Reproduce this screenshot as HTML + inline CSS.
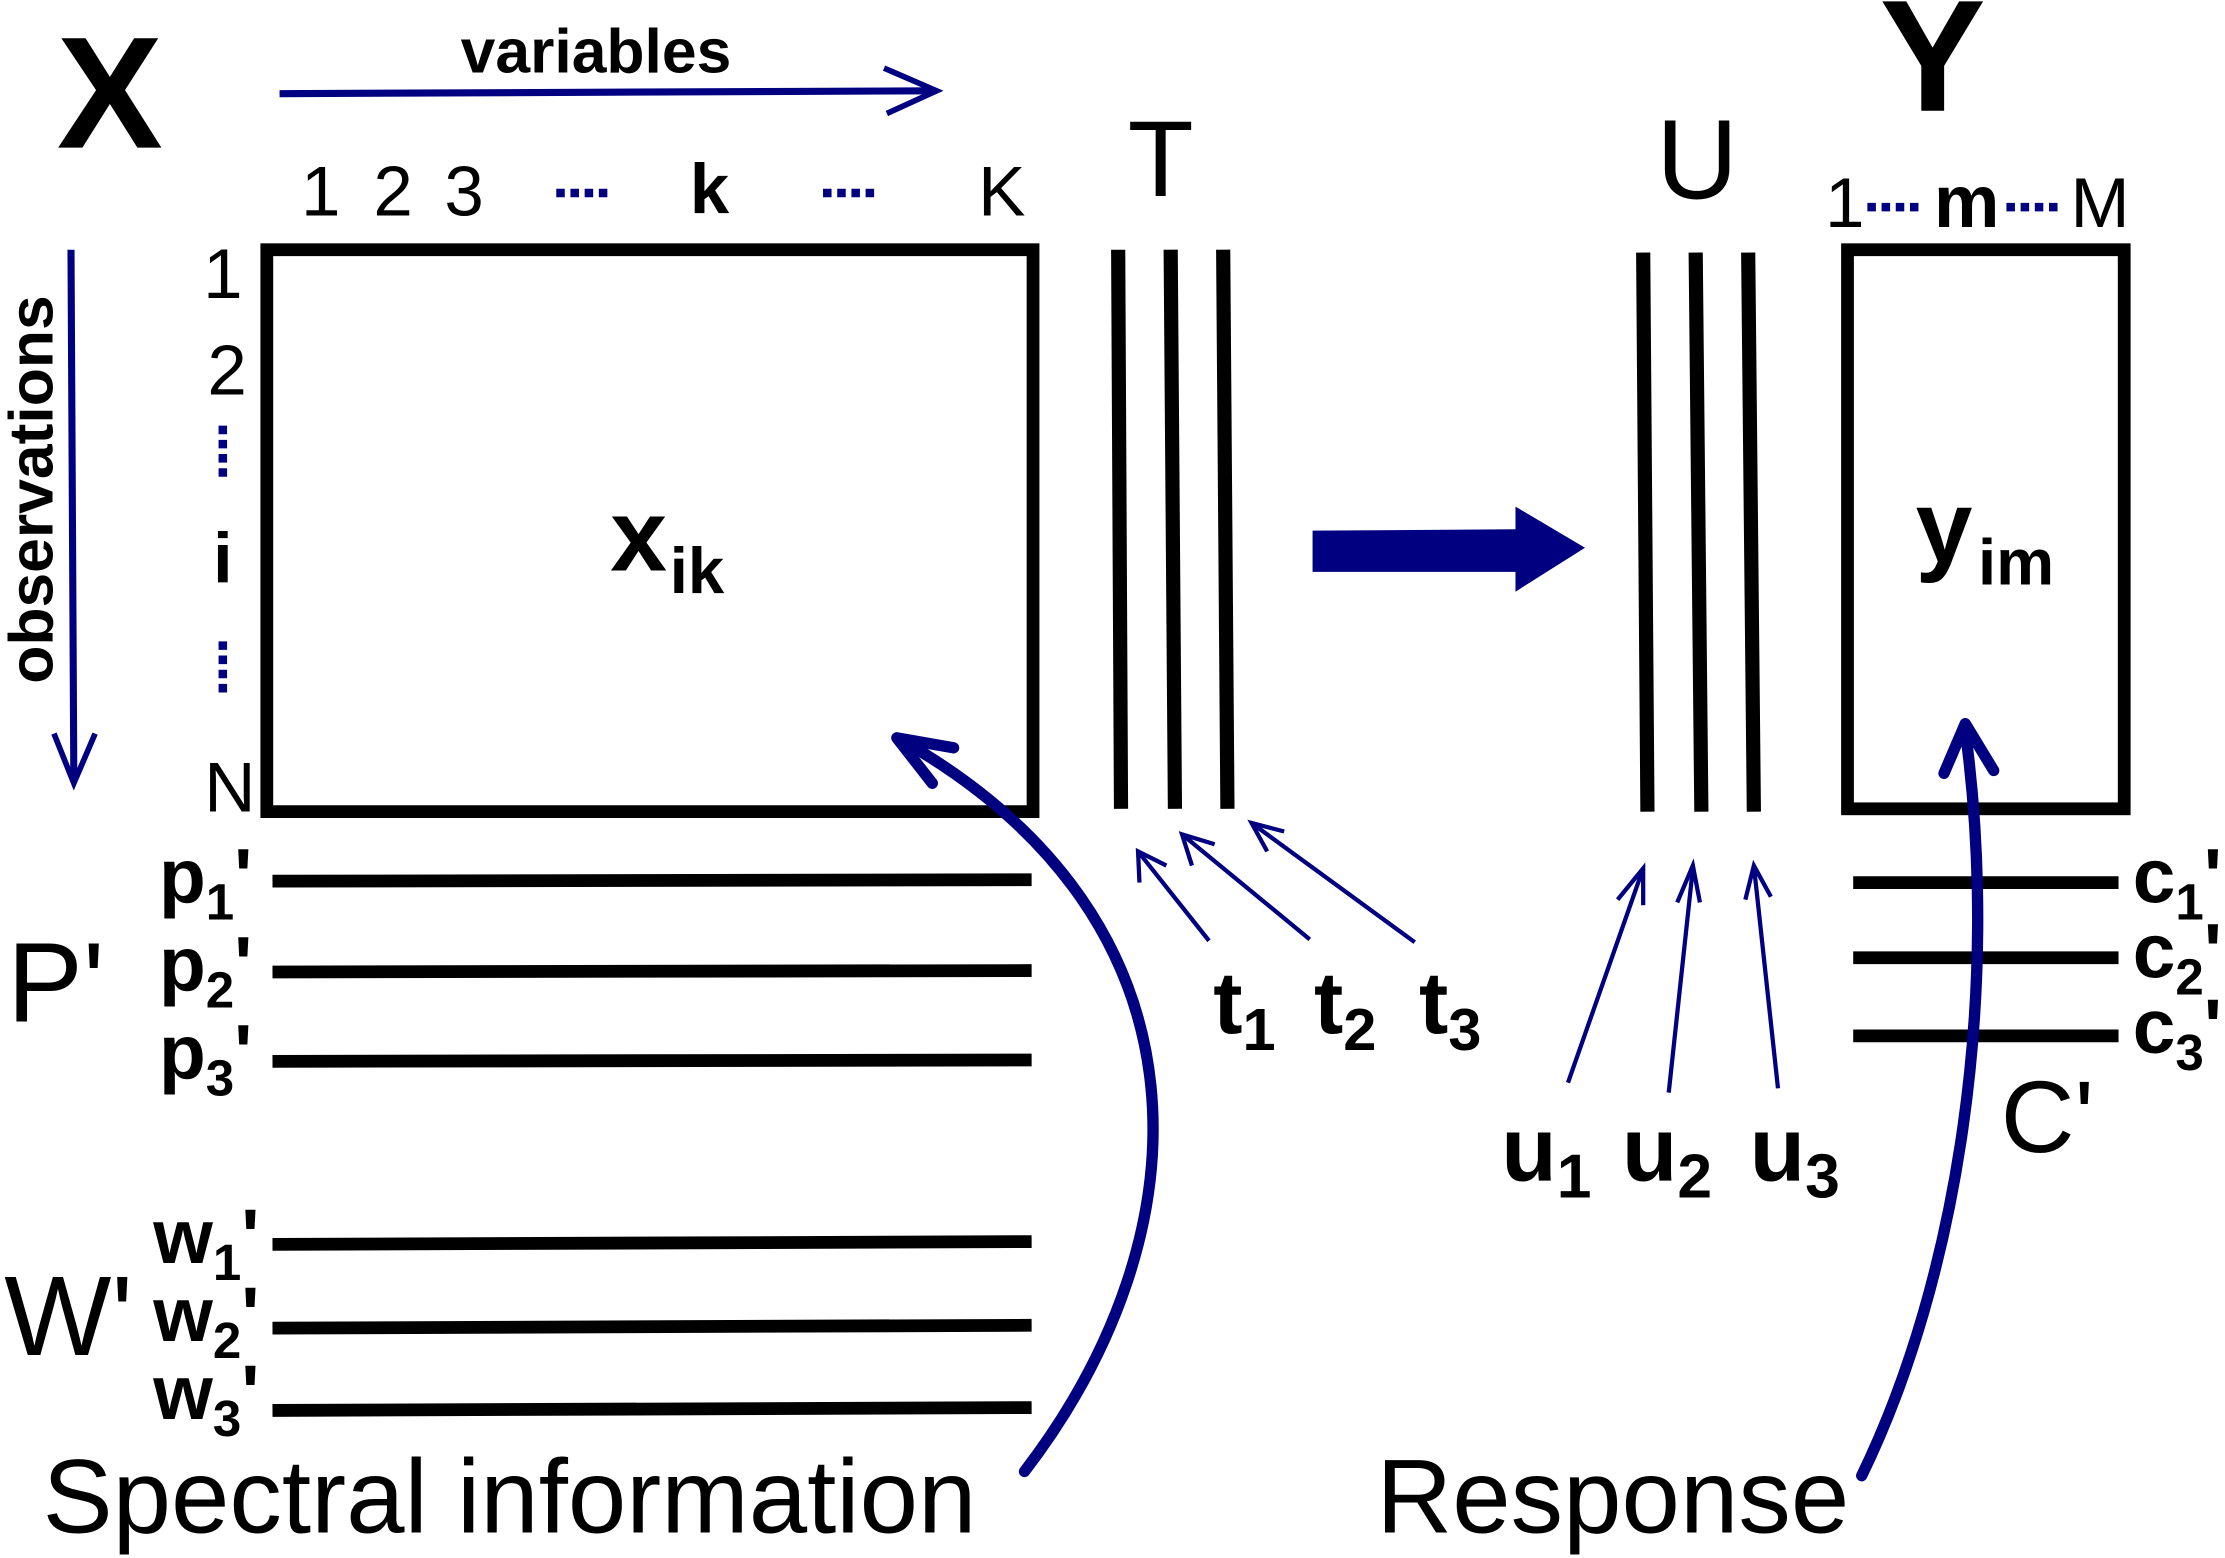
<!DOCTYPE html>
<html><head><meta charset="utf-8"><style>
html,body{margin:0;padding:0;background:#fff;}
svg{display:block;}
text{font-family:"Liberation Sans",sans-serif;}
.b{font-weight:bold;}
</style></head><body>
<svg width="2225" height="1558" viewBox="0 0 1568 1098" xmlns="http://www.w3.org/2000/svg">
<text x="40" y="104" font-size="112" class="b">X</text>
<text x="420" y="51" font-size="44" class="b" text-anchor="middle">variables</text>
<line x1="197" y1="66" x2="658" y2="64" stroke="#000080" stroke-width="5"/>
<polyline points="623,48 660,64 625,80" fill="none" stroke="#000080" stroke-width="4"/>
<g font-size="50">
<text x="226" y="152" text-anchor="middle">1</text>
<text x="277" y="152" text-anchor="middle">2</text>
<text x="327" y="152" text-anchor="middle">3</text>
<text x="500" y="150" text-anchor="middle" class="b">k</text>
<text x="706" y="152" text-anchor="middle">K</text>
</g>
<g stroke="#000080" stroke-width="6" stroke-dasharray="6,4">
<line x1="392" y1="136" x2="430" y2="136"/>
<line x1="580" y1="136" x2="618" y2="136"/>
<line x1="157" y1="300" x2="157" y2="336"/>
<line x1="157" y1="452" x2="157" y2="490"/>
<line x1="1316" y1="146" x2="1354" y2="146"/>
<line x1="1414" y1="146" x2="1452" y2="146"/>
</g>
<rect x="188" y="176" width="540" height="396" fill="none" stroke="#000" stroke-width="9"/>
<g font-size="50">
<text x="157" y="210" text-anchor="middle">1</text>
<text x="160" y="278" text-anchor="middle">2</text>
<text x="157" y="410" text-anchor="middle" class="b">i</text>
<text x="162" y="572" text-anchor="middle">N</text>
</g>
<line x1="50" y1="176" x2="52" y2="550" stroke="#000080" stroke-width="5"/>
<polyline points="38,517 52,552 67,517" fill="none" stroke="#000080" stroke-width="4"/>
<text transform="translate(37,345) rotate(-90)" font-size="44" class="b" text-anchor="middle">observations</text>
<text x="430" y="402" font-size="72" class="b">x</text>
<text x="472" y="418" font-size="46" class="b">ik</text>
<text x="818" y="138" font-size="76" text-anchor="middle">T</text>
<g stroke="#000" stroke-width="10">
<line x1="788" y1="176" x2="790" y2="570"/>
<line x1="825" y1="176" x2="828" y2="570"/>
<line x1="862" y1="176" x2="865" y2="570"/>
<line x1="1158" y1="178" x2="1161" y2="572"/>
<line x1="1195" y1="178" x2="1199" y2="572"/>
<line x1="1232" y1="178" x2="1236" y2="572"/>
</g>
<polygon points="925,374 1068,373 1068,357 1117,386 1068,417 1068,403 925,403" fill="#000080"/>
<text x="1196" y="140" font-size="80" text-anchor="middle">U</text>
<text x="1362" y="78" font-size="112" class="b" text-anchor="middle">Y</text>
<text x="1300" y="160" font-size="50" text-anchor="middle">1</text>
<text x="1386" y="160" font-size="52" text-anchor="middle" class="b">m</text>
<text x="1480" y="160" font-size="50" text-anchor="middle">M</text>
<rect x="1302" y="176" width="195" height="394" fill="none" stroke="#000" stroke-width="9"/>
<text x="1350" y="396" font-size="72" class="b">y</text>
<text x="1394" y="412" font-size="46" class="b">im</text>
<g stroke="#000" stroke-width="9">
<line x1="192" y1="621" x2="727" y2="620"/>
<line x1="192" y1="685" x2="727" y2="684"/>
<line x1="192" y1="748" x2="727" y2="747"/>
<line x1="192" y1="877" x2="727" y2="875"/>
<line x1="192" y1="936" x2="727" y2="934"/>
<line x1="192" y1="994" x2="727" y2="992"/>
<line x1="1306" y1="622" x2="1493" y2="622"/>
<line x1="1306" y1="675" x2="1493" y2="675"/>
<line x1="1306" y1="730" x2="1493" y2="730"/>
</g>
<text x="5" y="720" font-size="80">P'</text>
<g class="b" font-size="54">
<text x="112" y="636">p<tspan font-size="36" dy="12">1</tspan><tspan dy="-12">'</tspan></text>
<text x="112" y="698">p<tspan font-size="36" dy="12">2</tspan><tspan dy="-12">'</tspan></text>
<text x="112" y="760">p<tspan font-size="36" dy="12">3</tspan><tspan dy="-12">'</tspan></text>
<text x="108" y="890">w<tspan font-size="36" dy="12">1</tspan><tspan dy="-12">'</tspan></text>
<text x="108" y="945">w<tspan font-size="36" dy="12">2</tspan><tspan dy="-12">'</tspan></text>
<text x="108" y="1000">w<tspan font-size="36" dy="12">3</tspan><tspan dy="-12">'</tspan></text>
<text x="1503" y="636">c<tspan font-size="36" dy="12">1</tspan><tspan dy="-12">'</tspan></text>
<text x="1503" y="689">c<tspan font-size="36" dy="12">2</tspan><tspan dy="-12">'</tspan></text>
<text x="1503" y="742">c<tspan font-size="36" dy="12">3</tspan><tspan dy="-12">'</tspan></text>
</g>
<text x="3" y="955" font-size="80">W'</text>
<text x="1410" y="812" font-size="72">C'</text>
<text x="30" y="1080" font-size="74">Spectral information</text>
<text x="970" y="1080" font-size="74">Response</text>
<path d="M722,1037 C850,870 860,650 636,522" fill="none" stroke="#000080" stroke-width="8" stroke-linecap="round"/>
<polyline points="672,527 632,520 657,552" fill="none" stroke="#000080" stroke-width="8" stroke-linecap="round" stroke-linejoin="round"/>
<path d="M1312,1040 C1380,900 1410,700 1385,515" fill="none" stroke="#000080" stroke-width="8" stroke-linecap="round"/>
<polyline points="1370,545 1385,510 1405,543" fill="none" stroke="#000080" stroke-width="8" stroke-linecap="round" stroke-linejoin="round"/>
<g stroke="#000080" stroke-width="3" fill="none">
<line x1="852" y1="663" x2="802" y2="600"/><polyline points="803,622 802,600 822,610"/>
<line x1="923" y1="662" x2="833" y2="588"/><polyline points="840,610 833,588 856,595"/>
<line x1="997" y1="664" x2="882" y2="580"/><polyline points="893,600 882,580 905,586"/>
<line x1="1105" y1="763" x2="1158" y2="612"/><polyline points="1140,634 1158,612 1158,638"/>
<line x1="1176" y1="770" x2="1193" y2="612"/><polyline points="1182,636 1193,610 1198,636"/>
<line x1="1253" y1="767" x2="1236" y2="610"/><polyline points="1230,634 1236,610 1248,632"/>
</g>
<g class="b" font-size="62">
<text x="855" y="728">t<tspan font-size="42" dy="12">1</tspan></text>
<text x="926" y="728">t<tspan font-size="42" dy="12">2</tspan></text>
<text x="1000" y="728">t<tspan font-size="42" dy="12">3</tspan></text>
</g>
<g class="b" font-size="64">
<text x="1058" y="832">u<tspan font-size="44" dy="12">1</tspan></text>
<text x="1143" y="832">u<tspan font-size="44" dy="12">2</tspan></text>
<text x="1233" y="832">u<tspan font-size="44" dy="12">3</tspan></text>
</g>
</svg>
</body></html>
